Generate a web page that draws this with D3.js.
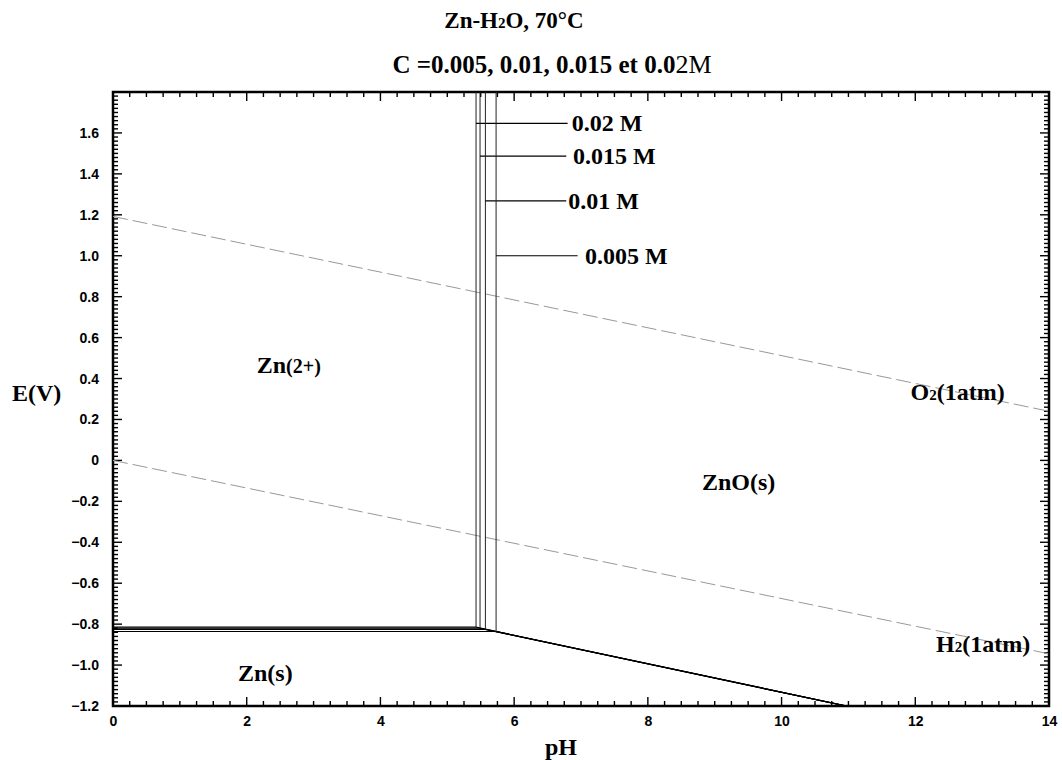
<!DOCTYPE html>
<html>
<head>
<meta charset="utf-8">
<title>Zn-H2O 70C</title>
<style>
  body { margin: 0; background: #fff; }
  .tick text { font-family: "Liberation Sans", Arial, sans-serif; font-weight: bold; font-size: 14px; }
  .lbl { font-family: "Liberation Serif", "Times New Roman", serif; font-weight: bold; fill: #000; }
</style>
</head>
<body>
<script src="https://cdn.jsdelivr.net/npm/d3@7"></script>
<script>

// concentrations and boundaries
var conc = ["0.02 M", "0.015 M", "0.01 M", "0.005 M"];
var pHc = [5.43, 5.49, 5.57, 5.73];          // Zn2+/ZnO vertical boundary
var Ec = [-0.815, -0.820, -0.826, -0.836];     // Zn2+/Zn horizontal boundary
var znoEnd = [10.97, -1.2];                    // ZnO/Zn line end

// leader lines to the concentration labels
var leaderE = [1.647, 1.487, 1.268, 1.0];
var leaderEnd = [6.80, 6.78, 6.78, 6.95];
var labelPH = [6.86, 6.88, 6.81, 7.06];

// water lines
var o2Line = [[0, 1.192], [14, 0.24]];
var h2Line = [[0, 0], [14, -0.945]];

var xTicks = [0, 2, 4, 6, 8, 10, 12, 14];
var yTicks = [-1.2, -1.0, -0.8, -0.6, -0.4, -0.2, 0, 0.2, 0.4, 0.6, 0.8, 1.0, 1.2, 1.4, 1.6];

var regions = [
  {main: "Zn", sub: "(2+)", after: "", pH: 2.15, E: 0.425},
  {main: "ZnO(s)", sub: "", after: "", pH: 8.81, E: -0.145},
  {main: "Zn(s)", sub: "", after: "", pH: 1.87, E: -1.078},
  {main: "O", sub: "2", after: "(1atm)", pH: 11.93, E: 0.295},
  {main: "H", sub: "2", after: "(1atm)", pH: 12.31, E: -0.938}
];

var W = 1062, H = 760;
var margin = {top: 92, right: 13, bottom: 54, left: 113};

var svg = d3.select("body").append("svg")
  .attr("width", W).attr("height", H);

var x = d3.scaleLinear().domain([0, 14]).range([margin.left, W - margin.right]);
var y = d3.scaleLinear().domain([-1.2, 1.8]).range([H - margin.bottom, margin.top]);

svg.append("clipPath").attr("id", "plot")
  .append("rect")
  .attr("x", x(0)).attr("y", y(1.8))
  .attr("width", x(14) - x(0)).attr("height", y(-1.2) - y(1.8));

var fmtY = function (d) { return d === 0 ? "0" : d3.format(".1f")(d); };

function minor(step, lo, hi) { return d3.range(lo, hi + 1e-9, step); }

// tick marks drawn by hand along the frame (inward)
var x0 = x(0), x1 = x(14), y0 = y(-1.2), y1 = y(1.8);
var ticks = svg.append("g").attr("stroke", "#000").attr("stroke-width", 1.4);

minor(0.25, 0, 14).forEach(function (v) {
  var len = (Math.abs(v / 2 - Math.round(v / 2)) < 1e-6) ? 9 : 5;
  ticks.append("line").attr("x1", x(v)).attr("x2", x(v)).attr("y1", y0).attr("y2", y0 - len);
  ticks.append("line").attr("x1", x(v)).attr("x2", x(v)).attr("y1", y1).attr("y2", y1 + len);
});
minor(0.02, -1.2, 1.8).forEach(function (v) {
  var len = (Math.abs(v / 0.2 - Math.round(v / 0.2)) < 1e-6) ? 9 : 5;
  ticks.append("line").attr("x1", x0).attr("x2", x0 + len).attr("y1", y(v)).attr("y2", y(v));
  ticks.append("line").attr("x1", x1).attr("x2", x1 - len).attr("y1", y(v)).attr("y2", y(v));
});

// tick labels through the axes
svg.append("g").attr("transform", "translate(0," + y0 + ")")
  .call(d3.axisBottom(x).tickValues(xTicks).tickSize(0).tickPadding(10).tickFormat(d3.format("d")));
svg.append("g").attr("transform", "translate(" + x0 + ",0)")
  .call(d3.axisLeft(y).tickValues(yTicks).tickSize(0).tickPadding(14).tickFormat(fmtY));
svg.selectAll(".domain").remove();

// frame
svg.append("rect")
  .attr("x", x0).attr("y", y1)
  .attr("width", x1 - x0).attr("height", y0 - y1)
  .attr("fill", "none").attr("stroke", "#000").attr("stroke-width", 2.5);

var plot = svg.append("g").attr("clip-path", "url(#plot)");
var line = d3.line().x(function (d) { return x(d[0]); }).y(function (d) { return y(d[1]); });

// water stability lines
[o2Line, h2Line].forEach(function (l) {
  plot.append("path").attr("d", line(l))
    .attr("fill", "none").attr("stroke", "#999").attr("stroke-width", 1)
    .attr("stroke-dasharray", "15,5");
});

// boundaries per concentration
conc.forEach(function (c, i) {
  plot.append("path")
    .attr("d", line([[0, Ec[i]], [pHc[i], Ec[i]], znoEnd]))
    .attr("fill", "none").attr("stroke", "#000").attr("stroke-width", 1.2);
  plot.append("path")
    .attr("d", line([[pHc[i], Ec[i]], [pHc[i], 1.8]]))
    .attr("fill", "none").attr("stroke", "#222").attr("stroke-width", 1);
  // leader line + label
  plot.append("path")
    .attr("d", line([[pHc[i], leaderE[i]], [leaderEnd[i], leaderE[i]]]))
    .attr("fill", "none").attr("stroke", "#000").attr("stroke-width", 1.2);
  svg.append("text").attr("class", "lbl")
    .attr("x", x(labelPH[i])).attr("y", y(leaderE[i]) + 8)
    .style("font-size", "24px")
    .text(c);
});

// region labels
regions.forEach(function (r) {
  var t = svg.append("text").attr("class", "lbl")
    .attr("x", x(r.pH)).attr("y", y(r.E))
    .style("font-size", "24px");
  t.append("tspan").text(r.main);
  if (r.sub) t.append("tspan").style("font-size", r.sub === "2" ? "15px" : "20px").text(r.sub);
  if (r.after) t.append("tspan").text(r.after);
});

// titles
var t1 = svg.append("text").attr("class", "lbl")
  .attr("x", 514).attr("y", 28).attr("text-anchor", "middle").style("font-size", "23px");
t1.append("tspan").text("Zn-H");
t1.append("tspan").style("font-size", "15px").text("2");
t1.append("tspan").text("O, 70°C");

var t2 = svg.append("text").attr("class", "lbl")
  .attr("x", 552).attr("y", 73).attr("text-anchor", "middle").style("font-size", "25px");
t2.append("tspan").text("C =0.005, 0.01, 0.015 et 0.0");
t2.append("tspan").style("font-size", "26px").style("font-weight", "normal").text("2M");

// axis titles
svg.append("text").attr("class", "lbl")
  .attr("x", 12).attr("y", 401).style("font-size", "24px").text("E(V)");
svg.append("text").attr("class", "lbl")
  .attr("x", 561).attr("y", 755).attr("text-anchor", "middle").style("font-size", "24px").text("pH");

</script>
</body>
</html>
